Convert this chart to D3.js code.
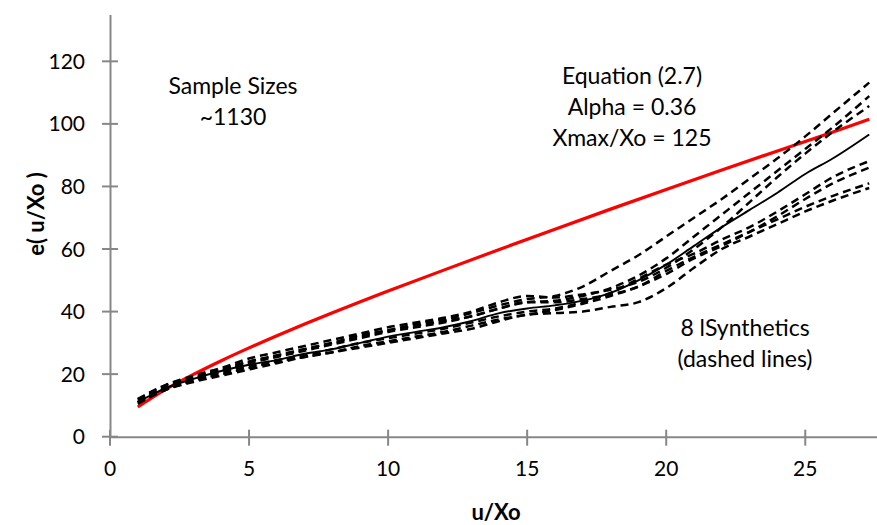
<!DOCTYPE html>
<html>
<head>
<meta charset="utf-8">
<script src="https://cdn.jsdelivr.net/npm/d3@7"></script>
<style>
  html, body { margin: 0; padding: 0; background: #fff; }
  svg { display: block; font-family: Lato, "Open Sans", sans-serif; }
</style>
</head>
<body>
<svg id="chart" width="877" height="525"></svg>
<script>
// Equation (2.7) curve
const eqU = [1, 2, 3, 4, 5, 6, 7, 8, 9, 10, 12, 14, 16, 18, 20, 22, 24, 26, 27.3];
const eqE = [9.5, 15.1, 19.9, 24.3, 28.4, 32.3, 36.05, 39.65, 43.15, 46.55, 53.25, 59.85, 66.35, 72.75, 79.05, 85.25, 91.35, 97.4, 101.5];

// Synthetic series, sampled on a common u/Xo grid
const synU = [1, 2, 3, 4, 5, 6, 7, 8, 9, 10, 11, 12, 13, 14, 15, 16, 17, 18, 19, 20, 21, 22, 23, 24, 25, 26, 27.3];
const synA = [11.5, 16, 19, 21.5, 24, 26, 28, 30, 32, 34, 36, 37.5, 39.5, 42, 44, 45, 48, 53, 58, 64, 70, 76, 82.5, 89, 96, 103.5, 113.2];
const synB = [11, 15.5, 18.5, 21, 23.5, 25.5, 27.5, 29.5, 31.5, 33.5, 35, 36.5, 38.5, 41, 43, 43.5, 45, 47.5, 51.5, 57, 64, 71, 78, 85, 92, 99, 108.9];
const synC = [12, 16.5, 19.5, 22, 25, 27, 29, 31, 33, 35, 36.5, 38, 40, 43, 45, 44.5, 45.5, 47, 49.5, 54, 60, 67, 75, 83, 90.5, 97.5, 105.7];
const synD = [11, 15.5, 18.5, 21, 23, 24.5, 26.5, 28, 30, 32, 33.5, 35, 37, 39.5, 41, 42, 43.5, 46, 50, 55, 61, 67, 72.5, 78, 84, 89, 96.6];
const synE = [11, 15, 18, 20.5, 22.5, 24.5, 26, 28, 30, 31.5, 33, 34.5, 36.5, 38.5, 40, 41, 43, 46, 50.5, 55, 58.5, 63, 67, 72, 77.5, 83, 88.1];
const synF = [10.5, 15, 18, 20, 22, 24, 25.5, 27, 29, 30.5, 32, 33.5, 35.5, 37.5, 39, 40.5, 42.5, 45, 48, 52, 57, 61, 65.5, 70.5, 76, 81, 86];
const synG = [12, 16.5, 19, 21.5, 24, 26, 28, 30, 32.5, 34, 35.5, 37, 38.5, 41, 43, 43, 44, 45.5, 48, 53, 57.5, 61.5, 65.5, 69.5, 73.5, 77, 81];
const synH = [11, 15, 17.5, 19.5, 21.5, 23.5, 25.5, 27, 28.5, 30, 31.5, 33, 34.5, 37, 39, 39.5, 40, 41.5, 43, 47.5, 54, 60, 64, 68, 72, 75.5, 79.5];

const xTicks = [0, 5, 10, 15, 20, 25];
const yTicks = [0, 20, 40, 60, 80, 100, 120];

// series list: values plus whether the line is dashed
const synthetics = [
  { values: synA, dashed: true },
  { values: synB, dashed: true },
  { values: synC, dashed: true },
  { values: synD, dashed: false },
  { values: synE, dashed: true },
  { values: synF, dashed: true },
  { values: synG, dashed: true },
  { values: synH, dashed: true }
];

const svg = d3.select("#chart");
const axisColor = "#878787";

const x = d3.scaleLinear().domain([0, 28]).range([110, 888.7]);
const y = d3.scaleLinear().domain([0, 135]).range([436.7, 14.4]);

// Axes
const xAxis = svg.append("g").attr("transform", `translate(0,${y(0)})`)
  .call(d3.axisBottom(x).tickValues(xTicks).tickSize(0).tickPadding(0).tickFormat(""));
xAxis.select(".domain").attr("stroke", axisColor).attr("stroke-width", 2);
xAxis.selectAll(".tick").remove();

const yAxis = svg.append("g").attr("transform", `translate(${x(0)},0)`)
  .call(d3.axisLeft(y).tickValues(yTicks).tickSize(0).tickFormat(""));
yAxis.select(".domain").attr("stroke", axisColor).attr("stroke-width", 2);
yAxis.selectAll(".tick").remove();

// crossing tick marks
svg.append("g").selectAll("line").data(xTicks).join("line")
  .attr("x1", d => x(d)).attr("x2", d => x(d))
  .attr("y1", y(0) - 7).attr("y2", y(0) + 9)
  .attr("stroke", axisColor).attr("stroke-width", 2);
svg.append("g").selectAll("line").data(yTicks).join("line")
  .attr("x1", x(0) - 8).attr("x2", x(0) + 8)
  .attr("y1", d => y(d)).attr("y2", d => y(d))
  .attr("stroke", axisColor).attr("stroke-width", 2);

// tick labels
svg.append("g").selectAll("text").data(xTicks).join("text")
  .attr("x", d => x(d)).attr("y", 476)
  .attr("text-anchor", "middle")
  .attr("font-size", 21).attr("fill", "#000")
  .text(d => d);
svg.append("g").selectAll("text").data(yTicks).join("text")
  .attr("x", 85).attr("y", d => y(d) + 7.5)
  .attr("text-anchor", "end")
  .attr("font-size", 21).attr("fill", "#000")
  .text(d => d);

// axis titles
svg.append("text")
  .attr("x", 496).attr("y", 520)
  .attr("text-anchor", "middle")
  .attr("font-size", 22).attr("font-weight", "bold").attr("fill", "#000")
  .text("u/Xo");
svg.append("text")
  .attr("transform", "translate(44,214) rotate(-90)")
  .attr("text-anchor", "middle")
  .attr("font-size", 22).attr("font-weight", "bold").attr("fill", "#000")
  .text("e( u/Xo )");

// Lines
const line = d3.line()
  .x(d => x(d[0]))
  .y(d => y(d[1]))
  .curve(d3.curveMonotoneX);

svg.append("path")
  .datum(d3.zip(eqU, eqE))
  .attr("d", line)
  .attr("fill", "none")
  .attr("stroke", "#ff0000")
  .attr("stroke-width", 3.2);

svg.append("g").selectAll("path").data(synthetics).join("path")
  .attr("d", s => line(d3.zip(synU, s.values)))
  .attr("fill", "none")
  .attr("stroke", "#000")
  .attr("stroke-width", s => s.dashed ? 2.5 : 1.9)
  .attr("stroke-dasharray", s => s.dashed ? "8,5" : null);

// Annotations
function block(cx, baselines, lines) {
  svg.append("g").selectAll("text").data(lines).join("text")
    .attr("x", cx).attr("y", (d, i) => baselines[i])
    .attr("text-anchor", "middle")
    .attr("font-size", 23).attr("fill", "#000")
    .text(d => d);
}
block(233, [94, 125], ["Sample Sizes", "~1130"]);
block(632, [84, 115, 146], ["Equation (2.7)", "Alpha = 0.36", "Xmax/Xo = 125"]);
block(745, [336, 367], ["8 lSynthetics", "(dashed lines)"]);
</script>
</body>
</html>
